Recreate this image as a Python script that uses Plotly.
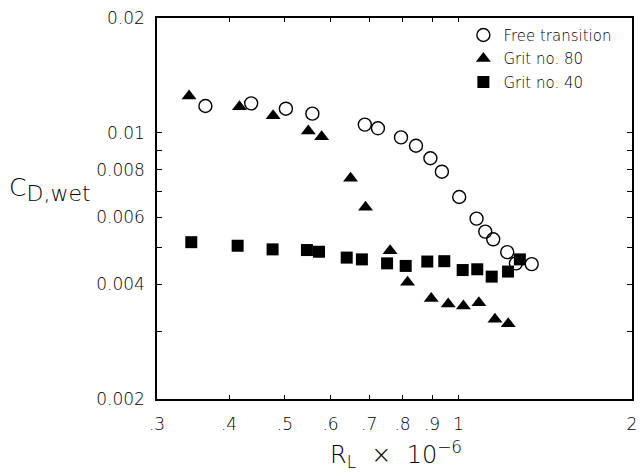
import math
import plotly.graph_objects as go

# Free transition (open circles)
free_x = [0.364, 0.437, 0.502, 0.558, 0.688, 0.725, 0.795, 0.844, 0.894, 0.936,
          1.003, 1.075, 1.113, 1.149, 1.215, 1.258, 1.340]
free_y = [0.01175, 0.01194, 0.01156, 0.01122, 0.01050, 0.01027, 0.00972, 0.00924,
          0.00857, 0.00790, 0.00678, 0.00595, 0.00550, 0.00525, 0.00486, 0.00454, 0.00452]

# Grit no. 80 (filled triangles)
g80_x = [0.341, 0.417, 0.477, 0.549, 0.579, 0.650, 0.690, 0.761, 0.816, 0.897,
         0.960, 1.020, 1.085, 1.157, 1.220]
g80_y = [0.01248, 0.01170, 0.01108, 0.01010, 0.00976, 0.00759, 0.00637, 0.00490,
         0.00405, 0.00367, 0.00355, 0.00351, 0.00358, 0.00324, 0.00315]

# Grit no. 40 (filled squares)
g40_x = [0.344, 0.414, 0.476, 0.546, 0.573, 0.640, 0.680, 0.752, 0.810, 0.883,
         0.945, 1.017, 1.078, 1.142, 1.219, 1.278]
g40_y = [0.00516, 0.00505, 0.00494, 0.00492, 0.00487, 0.00470, 0.00465, 0.00454,
         0.00447, 0.00459, 0.00460, 0.00436, 0.00438, 0.00419, 0.00432, 0.00465]

x_tickvals = [0.3, 0.4, 0.5, 0.6, 0.7, 0.8, 0.9, 1, 2]
x_ticktext = [".3", ".4", ".5", ".6", ".7", ".8", ".9", "1", "2"]
y_tickvals = [0.002, 0.003, 0.004, 0.005, 0.006, 0.007, 0.008, 0.009, 0.01, 0.02]
y_ticktext = ["0.002", " ", "0.004", " ", "0.006", " ", "0.008", " ", "0.01", "0.02"]

x_range = [math.log10(0.3) - 1e-6, math.log10(2) + 1e-6]
y_range = [math.log10(0.002) - 1e-6, math.log10(0.02) + 1e-6]

FONT = "DejaVu Sans"
INK = "#000000"

fig = go.Figure()
fig.add_trace(go.Scatter(
    x=free_x, y=free_y, mode="markers", name="Free transition", legendgroup="a",
    marker=dict(symbol="circle-open", size=13, color=INK, line=dict(width=1.4, color=INK)),
))
fig.add_trace(go.Scatter(
    x=g80_x, y=g80_y, mode="markers", name="Grit no. 80", legendgroup="b",
    marker=dict(symbol="triangle-up", size=13, color=INK),
))
fig.add_trace(go.Scatter(
    x=g40_x, y=g40_y, mode="markers", name="Grit no. 40", legendgroup="c",
    marker=dict(symbol="square", size=12, color=INK),
))

# Plot area at x 157..632, y 18..399 of the 640x472 page.
fig.update_layout(
    width=640, height=472,
    margin=dict(l=157, r=8, t=18, b=73),
    paper_bgcolor="white", plot_bgcolor="white",
    font=dict(family=FONT, color=INK, size=16),
    hovermode=False,
    showlegend=True,
    legend=dict(
        x=0.645, y=0.998, xanchor="left", yanchor="top",
        bgcolor="rgba(0,0,0,0)", borderwidth=0,
        font=dict(family=FONT, size=15, color=INK, weight=300),
        tracegroupgap=1, itemwidth=30,
    ),
    xaxis=dict(
        type="log", range=x_range, automargin=False,
        tickmode="array", tickvals=x_tickvals, ticktext=x_ticktext,
        ticks="inside", ticklen=4, tickwidth=1, tickcolor=INK,
        showline=True, linecolor=INK, linewidth=1.5, mirror="ticks",
        showgrid=False, zeroline=False, ticklabelstandoff=9,
        ticklabeloverflow="allow",
        tickfont=dict(family=FONT, size=17, color=INK, weight=300),
    ),
    yaxis=dict(
        type="log", range=y_range, automargin=False,
        tickmode="array", tickvals=y_tickvals, ticktext=y_ticktext,
        ticks="inside", ticklen=5, tickwidth=1, tickcolor=INK,
        showline=True, linecolor=INK, linewidth=1.5, mirror="ticks",
        showgrid=False, zeroline=False, ticklabelstandoff=7,
        ticklabeloverflow="allow",
        tickfont=dict(family=FONT, size=17, color=INK, weight=300),
    ),
)

fig.add_annotation(
    xref="paper", yref="paper", x=-0.316, y=0.549, xanchor="left", yanchor="middle",
    text="C<sub><span style='font-size:22px'>D,wet</span></sub>", showarrow=False,
    font=dict(family=FONT, size=25, color=INK, weight=300),
)
fig.add_annotation(
    xref="paper", yref="paper", x=0.503, y=-0.145, xanchor="center", yanchor="middle",
    text="R<sub>L</sub>  ×  10<sup>−6</sup>", showarrow=False,
    font=dict(family=FONT, size=24, color=INK, weight=300),
)

fig.write_html(
    "out.html",
    config={"displayModeBar": False},
    post_script="document.body.style.margin='0';document.body.style.overflow='hidden';",
)
